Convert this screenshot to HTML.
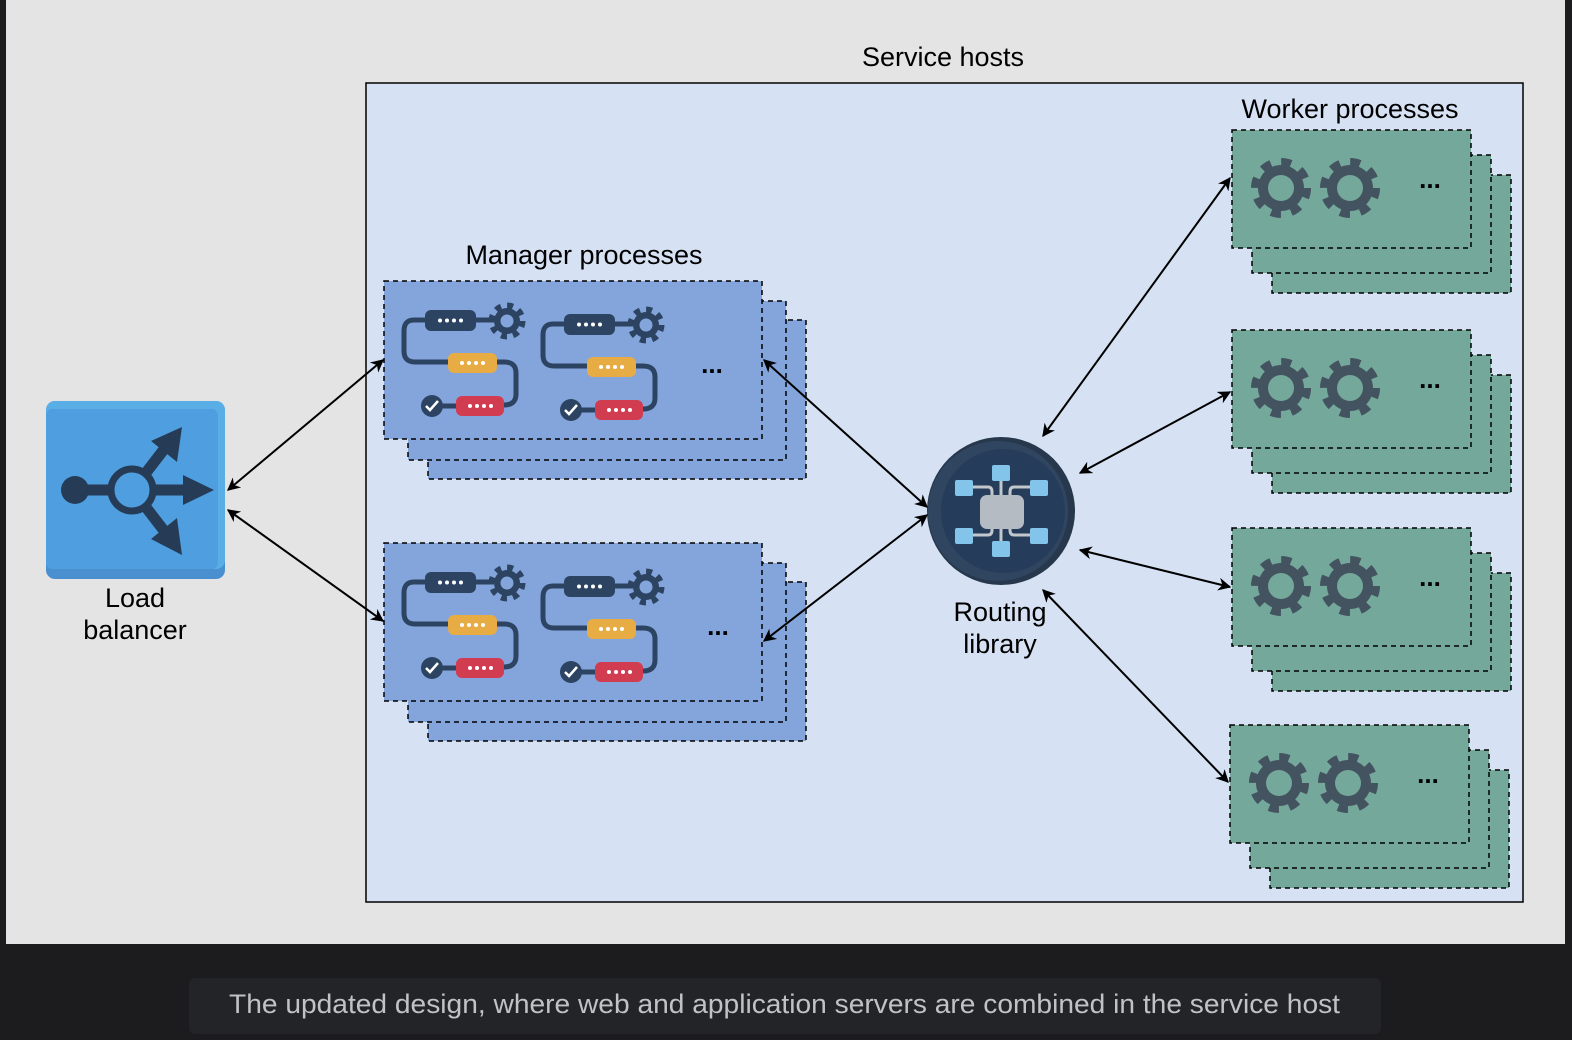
<!DOCTYPE html>
<html><head><meta charset="utf-8"><style>
html,body{margin:0;padding:0;background:#1c1c1e;width:1572px;height:1040px;overflow:hidden}
svg{display:block}
text{font-family:"Liberation Sans",Arial,sans-serif}
</style></head><body>
<svg width="1572" height="1040" viewBox="0 0 1572 1040" xmlns="http://www.w3.org/2000/svg">
<defs>
<marker id="ah" viewBox="0 0 10 10" refX="9" refY="5" markerWidth="13" markerHeight="13" orient="auto-start-reverse" markerUnits="userSpaceOnUse">
<path d="M0,0 L10,5 L0,10 L3,5 z" fill="#000"/></marker>
<g id="mgear"><circle r="13" fill="#2c4462"/><circle r="15.5" fill="none" stroke="#2c4462" stroke-width="6" stroke-dasharray="6 6.17"/><circle r="6.5" fill="#84a5db"/></g>
<g id="flow">
<path d="M42,39 H30 Q20,39 20,50 V70 Q20,81 31,81 H120 Q132,81 132,92 V113 Q132,124 120,124 H80" fill="none" stroke="#2c4462" stroke-width="5"/>
<line x1="92" y1="39" x2="110" y2="39" stroke="#2c4462" stroke-width="5"/>
<line x1="48" y1="125" x2="72" y2="125" stroke="#2c4462" stroke-width="5"/>
<rect x="41" y="29" width="51" height="21" rx="6" fill="#2c4462"/>
<g fill="#fff"><circle cx="56" cy="39.5" r="2"/><circle cx="63" cy="39.5" r="2"/><circle cx="70" cy="39.5" r="2"/><circle cx="77" cy="39.5" r="2"/></g>
<use href="#mgear" x="123" y="40"/>
<rect x="64" y="72" width="49" height="20" rx="6" fill="#e8ac45"/>
<g fill="#fff"><circle cx="78" cy="82" r="2"/><circle cx="85" cy="82" r="2"/><circle cx="92" cy="82" r="2"/><circle cx="99" cy="82" r="2"/></g>
<rect x="72" y="115" width="48" height="20" rx="6" fill="#d13c50"/>
<g fill="#fff"><circle cx="86" cy="125" r="2"/><circle cx="93" cy="125" r="2"/><circle cx="100" cy="125" r="2"/><circle cx="107" cy="125" r="2"/></g>
<circle cx="48" cy="125" r="11" fill="#2c4462"/>
<path d="M42,125 L46,129 L54,120" fill="none" stroke="#fff" stroke-width="2.5"/>
</g>
<g id="mstack">
<rect x="44" y="39" width="378" height="159" fill="#84a5db" stroke="#000" stroke-width="1.5" stroke-dasharray="5 4"/>
<rect x="24" y="20" width="378" height="159" fill="#84a5db" stroke="#000" stroke-width="1.5" stroke-dasharray="5 4"/>
<rect x="0" y="0" width="378" height="158" fill="#84a5db" stroke="#000" stroke-width="1.5" stroke-dasharray="5 4"/>
<use href="#flow"/>
<use href="#flow" x="139" y="4"/>
</g>
<g id="wgear"><circle r="23" fill="#445360"/><circle r="26" fill="none" stroke="#445360" stroke-width="8" stroke-dasharray="10 10.42"/><circle r="13" fill="#74a89b"/></g>
<g id="wstack">
<rect x="40" y="45" width="239" height="118" fill="#74a89b" stroke="#000" stroke-width="1.5" stroke-dasharray="5 4"/>
<rect x="20" y="25" width="239" height="118" fill="#74a89b" stroke="#000" stroke-width="1.5" stroke-dasharray="5 4"/>
<rect x="0" y="0" width="239" height="118" fill="#74a89b" stroke="#000" stroke-width="1.5" stroke-dasharray="5 4"/>
<use href="#wgear" x="49" y="58"/>
<use href="#wgear" x="118" y="58"/>
<text x="198" y="58" font-size="26" font-weight="bold" text-anchor="middle">...</text>
</g>
</defs>
<rect x="0" y="0" width="1572" height="1040" fill="#1c1c1e"/>
<rect x="6" y="0" width="1559" height="944" fill="#e4e4e4"/>
<rect x="189" y="978" width="1192" height="56" rx="6" fill="#232428"/>
<text x="229" y="1013" font-size="27" fill="#c2c2c6" textLength="1111" lengthAdjust="spacingAndGlyphs">The updated design, where web and application servers are combined in the service host</text>

<text x="943" y="66" font-size="27" text-anchor="middle">Service hosts</text>
<rect x="366" y="83" width="1157" height="819" fill="#d6e2f3" stroke="#000" stroke-width="1.5"/>

<text x="584" y="264" font-size="27" text-anchor="middle">Manager processes</text>
<use href="#mstack" x="384" y="281"/>
<text x="712" y="373" font-size="26" font-weight="bold" text-anchor="middle">...</text>
<use href="#mstack" x="384" y="543"/>
<text x="718" y="635" font-size="26" font-weight="bold" text-anchor="middle">...</text>

<text x="1350" y="118" font-size="27" text-anchor="middle">Worker processes</text>
<use href="#wstack" x="1232" y="130"/>
<use href="#wstack" x="1232" y="330"/>
<use href="#wstack" x="1232" y="528"/>
<use href="#wstack" x="1230" y="725"/>

<rect x="46" y="401" width="179" height="178" rx="9" fill="#4a8fcf"/>
<rect x="46" y="401" width="179" height="168" rx="9" fill="#5aaee6"/>
<rect x="46" y="409" width="172" height="160" rx="6" fill="#4f9ee0"/>
<g fill="#253b56" stroke="#253b56">
<circle cx="75" cy="490" r="14" stroke="none"/>
<line x1="75" y1="490" x2="112" y2="490" stroke-width="11"/>
<circle cx="132" cy="490" r="21" fill="none" stroke-width="7"/>
<line x1="153" y1="490" x2="185" y2="490" stroke-width="11"/>
<path d="M183,475 L214,490 L183,505 z" stroke="none"/>
<line x1="145" y1="474" x2="165" y2="448" stroke-width="11"/>
<path d="M151,441 L182,427 L177,462 z" stroke="none"/>
<line x1="145" y1="506" x2="165" y2="532" stroke-width="11"/>
<path d="M151,539 L182,555 L177,518 z" stroke="none"/>
</g>
<text x="135" y="607" font-size="27" text-anchor="middle">Load</text>
<text x="135" y="639" font-size="27" text-anchor="middle">balancer</text>

<circle cx="1001" cy="511" r="74" fill="#27384d"/>
<circle cx="998" cy="511" r="70" fill="#2f4560"/>
<circle cx="1003" cy="511" r="62" fill="#253d5a"/>
<g stroke="#c2c7cc" stroke-width="3" fill="none">
<path d="M1001,480 V495 M1001,542 V527 M972,487 H988 Q992,487 992,492 V498 M1030,487 H1014 Q1010,487 1010,492 V498 M972,535 H988 Q992,535 992,530 V524 M1030,535 H1014 Q1010,535 1010,530 V524"/>
</g>
<rect x="980" y="495" width="44" height="34" rx="7" fill="#b5bbc2"/>
<g fill="#82c4ea">
<rect x="992" y="465" width="18" height="16" rx="2"/>
<rect x="992" y="541" width="18" height="16" rx="2"/>
<rect x="955" y="480" width="18" height="16" rx="2"/>
<rect x="1030" y="480" width="18" height="16" rx="2"/>
<rect x="955" y="528" width="18" height="16" rx="2"/>
<rect x="1030" y="528" width="18" height="16" rx="2"/>
</g>
<text x="1000" y="621" font-size="27" text-anchor="middle">Routing</text>
<text x="1000" y="653" font-size="27" text-anchor="middle">library</text>

<g stroke="#000" stroke-width="2" fill="none" marker-start="url(#ah)" marker-end="url(#ah)">
<line x1="228" y1="490" x2="383" y2="360"/>
<line x1="228" y1="510" x2="383" y2="621"/>
<line x1="764" y1="360" x2="927" y2="507"/>
<line x1="764" y1="641" x2="927" y2="515"/>
<line x1="1043" y1="436" x2="1230" y2="178"/>
<line x1="1080" y1="473" x2="1230" y2="392"/>
<line x1="1080" y1="550" x2="1230" y2="587"/>
<line x1="1043" y1="590" x2="1228" y2="782"/>
</g>
</svg>
</body></html>
